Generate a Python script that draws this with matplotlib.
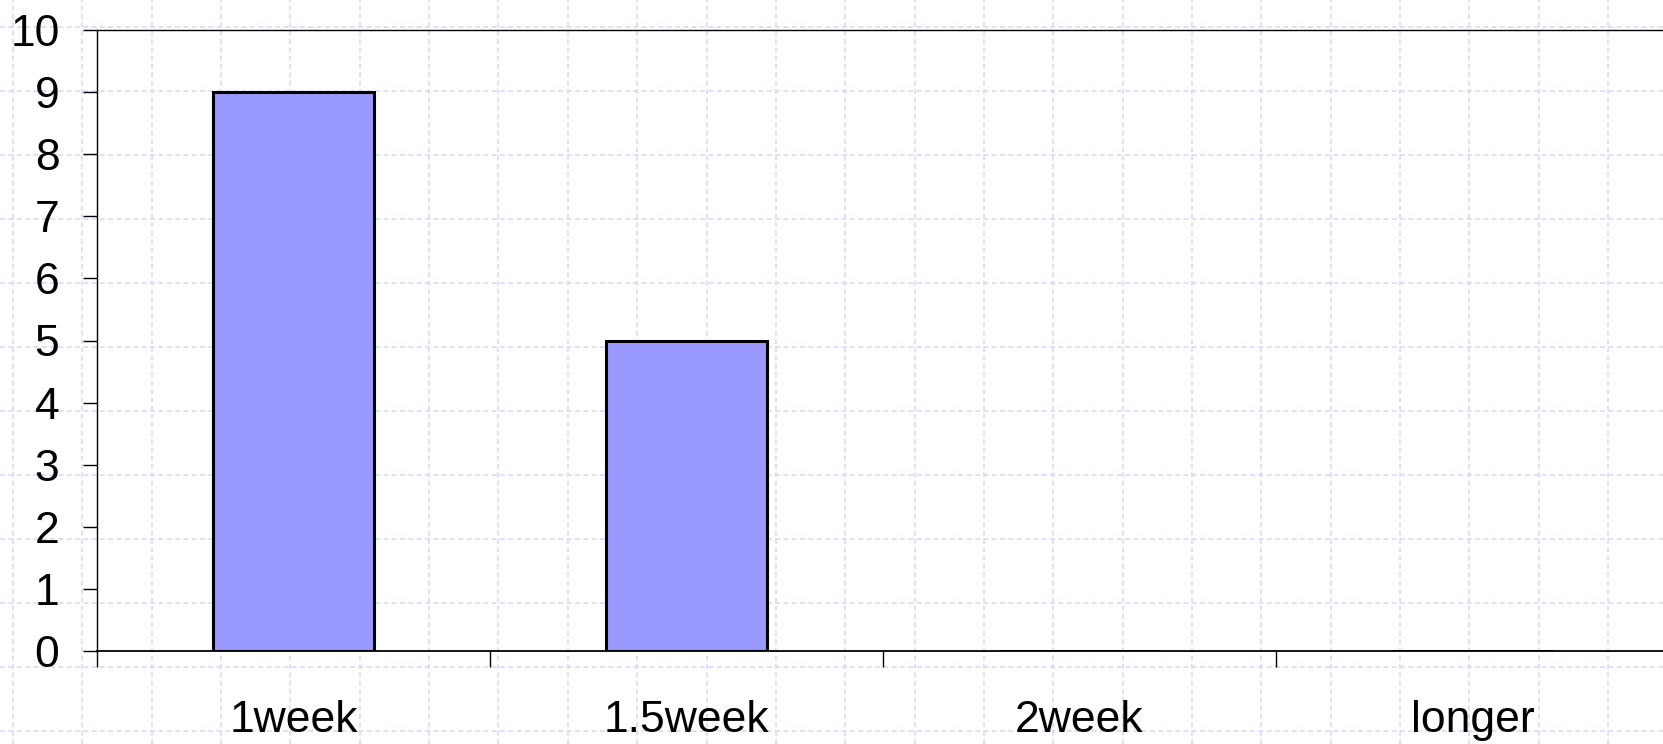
# bar chart of durations on graph-paper background
import matplotlib
matplotlib.use('Agg')
import matplotlib.pyplot as plt
import numpy as np

categories = ['1week', '1.5week', '2week', 'longer']
counts = [9, 5, 0, 0]
yticks = [0, 1, 2, 3, 4, 5, 6, 7, 8, 9, 10]

plt.rcParams['font.family'] = ['Liberation Sans', 'DejaVu Sans']

W, H = 1663, 744
fig = plt.figure(figsize=(W / 100, H / 100), dpi=100)
fig.patch.set_facecolor('white')

# graph paper background in pixel coords
bg = fig.add_axes([0, 0, 1, 1])
bg.set_xlim(0, W)
bg.set_ylim(H, 0)
bg.set_xticks(np.arange(13, W, 69.35))
bg.set_yticks(np.arange(27, H, 64.0))
bg.grid(True, color='#d4dcf8', linestyle=(0, (3, 2)), linewidth=1.2)
bg.tick_params(length=0, labelbottom=False, labelleft=False)
for s in bg.spines.values():
  s.set_visible(False)
bg.set_zorder(0)

# main chart
ax = fig.add_axes([97 / W, 93 / H, 1572 / W, 621 / H])
ax.set_facecolor('none')
ax.set_zorder(1)
x = np.arange(len(categories))
ax.bar(x, counts, width=0.41, color='#9999ff', edgecolor='black', linewidth=2.2, zorder=3)
ax.set_xlim(-0.5, len(categories) - 0.5)
ax.set_ylim(0, 10)
ax.set_yticks(yticks)
ax.tick_params(axis='y', direction='out', length=10, width=1, pad=17, labelsize=32)

# category boundaries as major ticks, names as minor ticks
ax.set_xticks(np.arange(len(categories) + 1) - 0.5)
ax.set_xticklabels([])
ax.set_xticks(x, minor=True)
ax.set_xticklabels(categories, minor=True)
ax.tick_params(axis='x', which='major', direction='out', length=11.5, width=1)
ax.tick_params(axis='x', which='minor', length=0, pad=35, labelsize=32)

ax.spines['right'].set_visible(False)
ax.spines['top'].set_linewidth(1)
ax.spines['left'].set_linewidth(1)
ax.spines['bottom'].set_linewidth(1.3)

fig.savefig('out.png', dpi=100)
